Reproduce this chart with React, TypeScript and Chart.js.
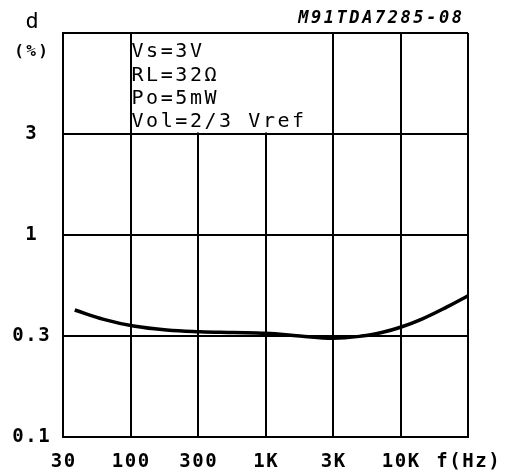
import React, { useEffect, useRef } from "react";
import { Chart, registerables } from "chart.js";

Chart.register(...registerables);

const FREQ_TICKS = [30, 100, 300, 1000, 3000, 10000, 30000];
const FREQ_LABELS = ["30", "100", "300", "1K", "3K", "10K", "f(Hz)"];
const D_TICKS = [0.1, 0.3, 1, 3, 10];
const D_LABELS = ["0.1", "0.3", "1", "3", ""];
const freqHz = [37, 62, 105, 180, 311, 561, 1011, 1751, 3000, 5004, 7153, 10000, 14166, 21178, 30000];
const distortionPct = [0.409, 0.366, 0.338, 0.3225, 0.316, 0.313, 0.31, 0.3, 0.2928, 0.2997, 0.313, 0.3331, 0.367, 0.4233, 0.4851];
const CONDITIONS = ["Vs=3V", "RL=32Ω", "Po=5mW", "Vol=2/3 Vref"];
const CODE = "M91TDA7285-08";

// position on the 1-3-10 equally spaced grid
function toPos(v: number, ticks: number[]): number {
  for (let i = 0; i < ticks.length - 1; i++) {
    if (v <= ticks[i + 1] || i === ticks.length - 2) {
      return i + Math.log(v / ticks[i]) / Math.log(ticks[i + 1] / ticks[i]);
    }
  }
  return ticks.length - 1;
}

const MONO = '"DejaVu Sans Mono", "Liberation Mono", monospace';

function drawSpaced(
  ctx: CanvasRenderingContext2D,
  text: string,
  x: number,
  y: number,
  adv: number,
  align: "center" | "left" | "right"
) {
  const chars = Array.from(text);
  const n = chars.length;
  const gw = ctx.measureText("0").width;
  let start: number;
  if (align === "center") start = x - ((n - 1) * adv) / 2;
  else if (align === "left") start = x + gw / 2;
  else start = x - gw / 2 - (n - 1) * adv;
  ctx.textAlign = "center";
  ctx.textBaseline = "middle";
  chars.forEach((c, i) => ctx.fillText(c, start + i * adv, y));
}

const textPlugin = {
  id: "textPlugin",
  beforeDatasetsDraw(chart: any) {
    const { ctx, scales } = chart;
    const x = scales.x;
    const y = scales.y;
    const l = x.getPixelForValue(1) + 1.5;
    const r = x.getPixelForValue(4) - 1.5;
    const t = y.getPixelForValue(4) + 1;
    const b = y.getPixelForValue(3) - 1.5;
    ctx.save();
    ctx.fillStyle = "#fff";
    ctx.fillRect(l, t, r - l, b - t);
    ctx.restore();
  },
  afterDraw(chart: any) {
    const { ctx, scales } = chart;
    const x = scales.x;
    const y = scales.y;
    ctx.save();
    ctx.fillStyle = "#000";
    ctx.font = `bold 19px ${MONO}`;
    FREQ_LABELS.forEach((lab, i) => {
      drawSpaced(ctx, lab, x.getPixelForValue(i), 462, 13, "center");
    });
    D_LABELS.forEach((lab, i) => {
      if (lab) drawSpaced(ctx, lab, 31, y.getPixelForValue(i), 13, "center");
    });
    ctx.font = `22px ${MONO}`;
    drawSpaced(ctx, "d", 32, 22, 11, "center");
    ctx.font = `bold 16px ${MONO}`;
    drawSpaced(ctx, "(%)", 31, 52, 12, "center");
    ctx.font = `italic bold 17px ${MONO}`;
    drawSpaced(ctx, CODE, 462, 19, 12.8, "right");
    ctx.font = `20px ${MONO}`;
    const left = x.getPixelForValue(1) + 1;
    const top = y.getPixelForValue(4);
    CONDITIONS.forEach((line, i) => {
      drawSpaced(ctx, line, left, top + 19 + i * 23.3, 14.6, "left");
    });
    ctx.restore();
  },
};

export default function App() {
  const ref = useRef<HTMLCanvasElement>(null);
  useEffect(() => {
    if (!ref.current) return;
    const points = freqHz.map((f, i) => ({
      x: toPos(f, FREQ_TICKS),
      y: toPos(distortionPct[i], D_TICKS),
    }));
    const chart = new Chart(ref.current, {
      type: "line",
      data: {
        datasets: [
          {
            data: points,
            borderColor: "#000",
            borderWidth: 3.5,
            pointRadius: 0,
            tension: 0.4,
            fill: false,
          },
        ],
      },
      options: {
        responsive: false,
        animation: false,
        layout: { padding: { top: 33, right: 39, left: 0, bottom: 0 } },
        plugins: { legend: { display: false }, tooltip: { enabled: false } },
        scales: {
          x: {
            type: "linear",
            min: 0,
            max: FREQ_TICKS.length - 1,
            ticks: { display: false, stepSize: 1 },
            grid: { color: "#000", lineWidth: 2, drawTicks: false },
            border: { color: "#000", width: 2 },
            afterFit: (s: any) => {
              s.height = 35;
            },
          },
          y: {
            type: "linear",
            min: 0,
            max: D_TICKS.length - 1,
            ticks: { display: false, stepSize: 1 },
            grid: { color: "#000", lineWidth: 2, drawTicks: false },
            border: { color: "#000", width: 2 },
            afterFit: (s: any) => {
              s.width = 63;
            },
          },
        },
      },
      plugins: [textPlugin],
    } as any);
    return () => chart.destroy();
  }, []);
  return (
    <div style={{ position: "absolute", left: 0, top: 0, width: 507, height: 472, background: "#fff" }}>
      <canvas ref={ref} width={507} height={472} style={{ display: "block" }} />
    </div>
  );
}
